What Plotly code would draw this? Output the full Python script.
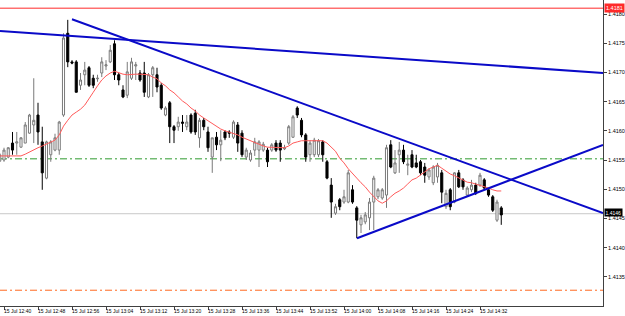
import plotly.graph_objects as go

# ---- data (EURUSD-style 1-minute bars, 15 Jul 12:39 .. 14:37) ----
bar_index = list(range(119))

opens = [1.41548, 1.41550, 1.41555, 1.41579, 1.41579, 1.41572, 1.41579, 1.41596, 1.41610, 1.41627,
         1.41581, 1.41519, 1.41559, 1.41567, 1.41567, 1.41627, 1.41767, 1.41718, 1.41718, 1.41678,
         1.41696, 1.41708, 1.41690, 1.41689, 1.41699, 1.41711, 1.41718, 1.41749, 1.41696, 1.41670,
         1.41661, 1.41690, 1.41711, 1.41699, 1.41699, 1.41658, 1.41696, 1.41696, 1.41678, 1.41627,
         1.41648, 1.41607, 1.41607, 1.41615, 1.41607, 1.41627, 1.41630, 1.41588, 1.41618, 1.41598,
         1.41555, 1.41589, 1.41576, 1.41598, 1.41598, 1.41589, 1.41610, 1.41596, 1.41555, 1.41550,
         1.41567, 1.41567, 1.41567, 1.41567, 1.41567, 1.41579, 1.41579, 1.41569, 1.41579, 1.41589,
         1.41639, 1.41618, 1.41593, 1.41559, 1.41559, 1.41559, 1.41581, 1.41547, 1.41507, 1.41459,
         1.41482, 1.41478, 1.41478, 1.41499, 1.41468, 1.41439, 1.41444, 1.41451, 1.41478, 1.41487,
         1.41485, 1.41490, 1.41576, 1.41528, 1.41559, 1.41567, 1.41541, 1.41559, 1.41545, 1.41547,
         1.41538, 1.41521, 1.41511, 1.41521, 1.41528, 1.41470, 1.41499, 1.41478, 1.41528, 1.41516,
         1.41490, 1.41499, 1.41507, 1.41507, 1.41516, 1.41499, 1.41487, 1.41447, 1.41468]

highs = [1.41562, 1.41571, 1.41572, 1.41598, 1.41598, 1.41589, 1.41615, 1.41629, 1.41690, 1.41648,
         1.41607, 1.41583, 1.41584, 1.41595, 1.41617, 1.41767, 1.41790, 1.41721, 1.41721, 1.41699,
         1.41718, 1.41711, 1.41696, 1.41696, 1.41726, 1.41721, 1.41747, 1.41755, 1.41699, 1.41678,
         1.41718, 1.41725, 1.41718, 1.41704, 1.41718, 1.41699, 1.41711, 1.41708, 1.41682, 1.41642,
         1.41651, 1.41610, 1.41624, 1.41627, 1.41627, 1.41630, 1.41636, 1.41622, 1.41622, 1.41607,
         1.41588, 1.41598, 1.41601, 1.41601, 1.41601, 1.41618, 1.41615, 1.41601, 1.41571, 1.41567,
         1.41588, 1.41584, 1.41581, 1.41571, 1.41579, 1.41584, 1.41584, 1.41576, 1.41610, 1.41627,
         1.41642, 1.41622, 1.41596, 1.41584, 1.41588, 1.41586, 1.41584, 1.41550, 1.41519, 1.41475,
         1.41485, 1.41499, 1.41533, 1.41507, 1.41471, 1.41456, 1.41461, 1.41485, 1.41523, 1.41502,
         1.41502, 1.41576, 1.41584, 1.41567, 1.41581, 1.41576, 1.41559, 1.41567, 1.41559, 1.41550,
         1.41545, 1.41536, 1.41541, 1.41545, 1.41533, 1.41499, 1.41502, 1.41529, 1.41533, 1.41519,
         1.41505, 1.41516, 1.41511, 1.41528, 1.41519, 1.41502, 1.41490, 1.41482, 1.41471]

lows = [1.41547, 1.41547, 1.41553, 1.41559, 1.41559, 1.41571, 1.41579, 1.41595, 1.41579, 1.41576,
        1.41499, 1.41517, 1.41547, 1.41565, 1.41559, 1.41624, 1.41709, 1.41714, 1.41666, 1.41670,
        1.41678, 1.41675, 1.41673, 1.41684, 1.41692, 1.41704, 1.41716, 1.41687, 1.41678, 1.41656,
        1.41656, 1.41687, 1.41687, 1.41684, 1.41658, 1.41656, 1.41658, 1.41666, 1.41636, 1.41625,
        1.41579, 1.41579, 1.41600, 1.41598, 1.41601, 1.41595, 1.41593, 1.41571, 1.41601, 1.41564,
        1.41528, 1.41567, 1.41548, 1.41584, 1.41588, 1.41586, 1.41564, 1.41555, 1.41550, 1.41547,
        1.41557, 1.41538, 1.41564, 1.41538, 1.41564, 1.41564, 1.41547, 1.41567, 1.41576, 1.41588,
        1.41622, 1.41589, 1.41547, 1.41547, 1.41555, 1.41555, 1.41547, 1.41517, 1.41451, 1.41456,
        1.41464, 1.41475, 1.41476, 1.41475, 1.41416, 1.41425, 1.41440, 1.41430, 1.41430, 1.41483,
        1.41482, 1.41468, 1.41536, 1.41526, 1.41528, 1.41543, 1.41524, 1.41536, 1.41536, 1.41524,
        1.41511, 1.41516, 1.41507, 1.41511, 1.41476, 1.41466, 1.41464, 1.41476, 1.41502, 1.41499,
        1.41487, 1.41495, 1.41490, 1.41504, 1.41499, 1.41487, 1.41461, 1.41444, 1.41439]

closes = [1.41559, 1.41567, 1.41571, 1.41567, 1.41581, 1.41588, 1.41610, 1.41627, 1.41618, 1.41598,
          1.41528, 1.41581, 1.41581, 1.41588, 1.41615, 1.41759, 1.41718, 1.41716, 1.41666, 1.41687,
          1.41704, 1.41678, 1.41678, 1.41690, 1.41718, 1.41713, 1.41738, 1.41696, 1.41687, 1.41658,
          1.41701, 1.41718, 1.41713, 1.41687, 1.41666, 1.41696, 1.41708, 1.41675, 1.41639, 1.41639,
          1.41607, 1.41601, 1.41615, 1.41613, 1.41615, 1.41598, 1.41598, 1.41618, 1.41607, 1.41571,
          1.41588, 1.41576, 1.41584, 1.41588, 1.41596, 1.41615, 1.41579, 1.41559, 1.41567, 1.41562,
          1.41581, 1.41581, 1.41577, 1.41547, 1.41576, 1.41567, 1.41567, 1.41571, 1.41607, 1.41624,
          1.41627, 1.41593, 1.41555, 1.41579, 1.41584, 1.41583, 1.41559, 1.41519, 1.41478, 1.41470,
          1.41470, 1.41487, 1.41528, 1.41478, 1.41447, 1.41451, 1.41456, 1.41478, 1.41519, 1.41499,
          1.41499, 1.41571, 1.41538, 1.41545, 1.41567, 1.41547, 1.41543, 1.41538, 1.41538, 1.41528,
          1.41524, 1.41533, 1.41538, 1.41541, 1.41495, 1.41493, 1.41470, 1.41528, 1.41504, 1.41504,
          1.41502, 1.41507, 1.41493, 1.41524, 1.41502, 1.41490, 1.41464, 1.41478, 1.41456]

ma_values = [1.41557, 1.41557, 1.41557, 1.41557, 1.41557, 1.41557, 1.41560, 1.41564, 1.41567, 1.41571,
             1.41574, 1.41577, 1.41581, 1.41584, 1.41593, 1.41608, 1.41618, 1.41627, 1.41632, 1.41637,
             1.41644, 1.41656, 1.41666, 1.41677, 1.41687, 1.41694, 1.41699, 1.41702, 1.41699, 1.41697,
             1.41696, 1.41697, 1.41697, 1.41697, 1.41697, 1.41696, 1.41692, 1.41689, 1.41682, 1.41677,
             1.41670, 1.41665, 1.41658, 1.41651, 1.41646, 1.41639, 1.41634, 1.41627, 1.41622, 1.41617,
             1.41612, 1.41607, 1.41603, 1.41600, 1.41598, 1.41596, 1.41593, 1.41589, 1.41586, 1.41583,
             1.41579, 1.41576, 1.41574, 1.41572, 1.41572, 1.41572, 1.41572, 1.41571, 1.41574, 1.41579,
             1.41581, 1.41583, 1.41583, 1.41583, 1.41583, 1.41583, 1.41583, 1.41579, 1.41572, 1.41565,
             1.41553, 1.41545, 1.41535, 1.41526, 1.41519, 1.41511, 1.41504, 1.41495, 1.41487, 1.41480,
             1.41476, 1.41480, 1.41487, 1.41493, 1.41497, 1.41502, 1.41509, 1.41516, 1.41519, 1.41524,
             1.41529, 1.41535, 1.41538, 1.41541, 1.41536, 1.41531, 1.41526, 1.41523, 1.41519, 1.41516,
             1.41512, 1.41511, 1.41509, 1.41507, 1.41505, 1.41502, 1.41499, 1.41497, 1.41497]

# time-axis labels (bar index of each label)
time_label_index = [1, 9, 17, 25, 33, 41, 49, 57, 65, 73, 81, 89, 97, 105, 113]
time_labels = ["15 Jul 12:40", "15 Jul 12:48", "15 Jul 12:56", "15 Jul 13:04", "15 Jul 13:12",
               "15 Jul 13:20", "15 Jul 13:28", "15 Jul 13:36", "15 Jul 13:44", "15 Jul 13:52",
               "15 Jul 14:00", "15 Jul 14:08", "15 Jul 14:16", "15 Jul 14:24", "15 Jul 14:32"]

price_ticks = [1.4135, 1.4140, 1.4145, 1.4150, 1.4155, 1.4160, 1.4165, 1.4170, 1.4175, 1.4180]
price_tick_labels = ["1.4135", "1.4140", "1.4145", "1.4150", "1.4155",
                     "1.4160", "1.4165", "1.4170", "1.4175", "1.4180"]

# trend lines: (bar index, price) anchor pairs
trend1_x = [0.06, 141.94]
trend1_y = [1.41771, 1.41699]
trend2_x = [17.0, 141.94]
trend2_y = [1.41791, 1.41459]
trend3_x = [84.06, 141.94]
trend3_y = [1.41416, 1.41576]

# horizontal levels
ask_level = 1.4181
bid_level = 1.41458
green_level = 1.41552
orange_level = 1.41327
ask_label = "1.4181"
bid_label = "1.4146"

x_range = [0.059, 141.94]
y_range = [1.41300, 1.41824]

fig = go.Figure()

fig.add_trace(go.Candlestick(
    x=bar_index, open=opens, high=highs, low=lows, close=closes,
    increasing=dict(line=dict(color="#7a7a7a", width=1), fillcolor="#ffffff"),
    decreasing=dict(line=dict(color="#000000", width=1), fillcolor="#000000"),
    whiskerwidth=0, hoverinfo="skip", showlegend=False))

fig.add_trace(go.Scatter(x=bar_index, y=ma_values, mode="lines",
                         line=dict(color="#ff5a5a", width=1), hoverinfo="skip", showlegend=False))

for tx, ty in [(trend1_x, trend1_y), (trend2_x, trend2_y), (trend3_x, trend3_y)]:
    fig.add_trace(go.Scatter(x=tx, y=ty, mode="lines",
                             line=dict(color="#0a0ac8", width=2), hoverinfo="skip", showlegend=False))

shapes = [
    dict(type="line", xref="paper", x0=0, x1=1, yref="y", y0=ask_level, y1=ask_level,
         line=dict(color="#ff2a2a", width=1), layer="below"),
    dict(type="line", xref="paper", x0=0, x1=1, yref="y", y0=bid_level, y1=bid_level,
         line=dict(color="#c8c8c8", width=1), layer="below"),
    dict(type="line", xref="paper", x0=0, x1=1, yref="y", y0=green_level, y1=green_level,
         line=dict(color="#2f9a2f", width=1, dash="7px,3px,2px,3px"), layer="below"),
    dict(type="line", xref="paper", x0=0, x1=1, yref="y", y0=orange_level, y1=orange_level,
         line=dict(color="#ff6a22", width=1, dash="7px,3px,2px,3px"), layer="below"),
]

annotations = []
for xi, lab in zip(time_label_index, time_labels):
    annotations.append(dict(x=xi, xref="x", y=0, yref="paper", yanchor="top", xanchor="left",
                            text=lab, showarrow=False, font=dict(size=5, color="#000000",
                            family="Liberation Sans"), yshift=-1, xshift=-1, borderpad=0))
annotations.append(dict(x=1, xref="paper", y=ask_level, yref="y", xanchor="left", yanchor="middle",
                        text=ask_label, showarrow=False, bgcolor="#ff2a2a",
                        font=dict(size=5.5, color="#ffffff", family="Liberation Sans"), borderpad=1, xshift=1))
annotations.append(dict(x=1, xref="paper", y=bid_level, yref="y", xanchor="left", yanchor="middle",
                        text=bid_label, showarrow=False, bgcolor="#000000",
                        font=dict(size=5, color="#ffffff", family="Liberation Sans"), borderpad=0.5,
                        xshift=1, yshift=1.5))

fig.update_layout(
    width=625, height=316,
    margin=dict(l=0, r=22, t=0, b=10),
    paper_bgcolor="#ffffff", plot_bgcolor="#ffffff",
    showlegend=False,
    shapes=shapes, annotations=annotations,
    xaxis=dict(range=x_range, rangeslider=dict(visible=False), showgrid=False, zeroline=False,
               tickmode="array", tickvals=time_label_index, showticklabels=False,
               ticks="outside", ticklen=3, tickcolor="#404040",
               showline=True, linecolor="#404040", linewidth=1),
    yaxis=dict(range=y_range, side="right", showgrid=False, zeroline=False,
               tickmode="array", tickvals=price_ticks, ticktext=price_tick_labels,
               tickfont=dict(size=5.5, color="#000000", family="Liberation Sans"),
               ticks="outside", ticklen=3, tickcolor="#404040",
               showline=True, linecolor="#404040", linewidth=1),
)

fig.write_html("out.html")
